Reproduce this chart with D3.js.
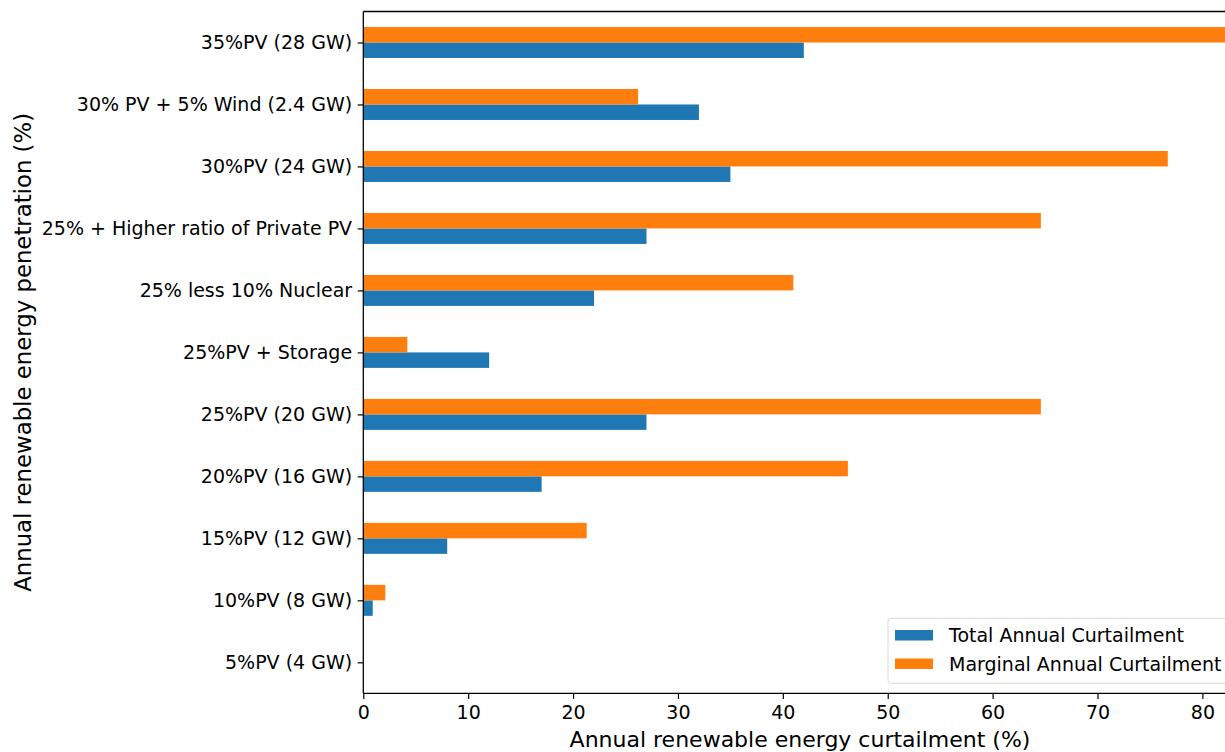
<!DOCTYPE html>
<html><head><meta charset="utf-8">
<script src="https://cdn.jsdelivr.net/npm/d3@7"></script>
<style>
html,body{margin:0;padding:0;background:#fff;overflow:hidden;}
svg{display:block;font-family:"DejaVu Sans",sans-serif;}
</style></head>
<body><svg id="c" width="1225" height="752"></svg>
<script>
const categories = ["5%PV (4 GW)","10%PV (8 GW)","15%PV (12 GW)","20%PV (16 GW)","25%PV (20 GW)","25%PV + Storage","25% less 10% Nuclear","25% + Higher ratio of Private PV","30%PV (24 GW)","30% PV + 5% Wind (2.4 GW)","35%PV (28 GW)"];
const totalCurtailment = [0, 0.9, 8, 17, 27, 12, 22, 27, 35, 32, 42];
const marginalCurtailment = [0, 2.1, 21.3, 46.2, 64.6, 4.2, 41, 64.6, 76.7, 26.2, 88];
const xTicks = [0,10,20,30,40,50,60,70,80];
const seriesNames = ["Total Annual Curtailment","Marginal Annual Curtailment"];
const colors = ["#1f77b4","#ff7f0e"];

const svg = d3.select("#c");
const L = 363.3, R = 1237, T = 11.5, B = 693.3;
const x = d3.scaleLinear().domain([0, 83.3]).range([L, R]);
const y = d3.scaleLinear().domain([-0.5, categories.length - 0.5]).range([B, T]);
const bw = 0.25;

svg.append("defs").append("clipPath").attr("id","pc")
  .append("rect").attr("x",L).attr("y",T).attr("width",R-L).attr("height",B-T);

const g = svg.append("g").attr("clip-path","url(#pc)");
const series = [totalCurtailment, marginalCurtailment];
series.forEach((vals, si) => {
  const off = si === 0 ? -bw/2 : bw/2;
  g.selectAll(null).data(vals).enter().append("rect")
    .attr("x", x(0))
    .attr("y", (d,i) => y(i + off + bw/2))
    .attr("width", d => x(d) - x(0))
    .attr("height", y(0) - y(bw))
    .attr("fill", colors[si]);
});

// axes
const xAxis = d3.axisBottom(x).tickValues(xTicks).tickSize(5.6).tickPadding(6.4).tickFormat(d3.format("d"));
const xg = svg.append("g").attr("transform",`translate(0,${B})`).call(xAxis);
xg.select(".domain").remove();
xg.selectAll("line").attr("stroke","#000").attr("stroke-width",1.2);
xg.selectAll("text").attr("font-size",19).attr("fill","#000").attr("font-family","DejaVu Sans");

const yAxis = d3.axisLeft(y).tickValues(d3.range(categories.length)).tickFormat(i => categories[i]).tickSize(5.6).tickPadding(5.6);
const yg = svg.append("g").attr("transform",`translate(${L},0)`).call(yAxis);
yg.select(".domain").remove();
yg.selectAll("line").attr("stroke","#000").attr("stroke-width",1.2);
yg.selectAll("text").attr("font-size",19).attr("fill","#000").attr("font-family","DejaVu Sans");

// spines
const sp = svg.append("g").attr("stroke","#000").attr("stroke-width",1.3).attr("fill","none");
sp.append("line").attr("x1",L).attr("x2",L).attr("y1",T).attr("y2",B);
sp.append("line").attr("x1",L).attr("x2",R).attr("y1",B).attr("y2",B);
sp.append("line").attr("x1",L).attr("x2",R).attr("y1",T).attr("y2",T);
sp.append("line").attr("x1",R).attr("x2",R).attr("y1",T).attr("y2",B);

// axis labels
svg.append("text").attr("x",800).attr("y",747).attr("text-anchor","middle")
  .attr("font-size",22).attr("fill","#000").text("Annual renewable energy curtailment (%)");
svg.append("text").attr("transform",`translate(31,${(T+B)/2}) rotate(-90)`).attr("text-anchor","middle")
  .attr("font-size",22.8).attr("fill","#000").text("Annual renewable energy penetration (%)");

// legend
const lg = svg.append("g");
lg.append("rect").attr("x",888).attr("y",618.3).attr("width",R-8-888).attr("height",65)
  .attr("rx",3).attr("fill","#fff").attr("fill-opacity",0.8).attr("stroke","#d9d9d9").attr("stroke-width",1);
seriesNames.forEach((n,i) => {
  const yy = 630 + i*28.5;
  lg.append("rect").attr("x",895).attr("y",yy).attr("width",38).attr("height",10.5).attr("fill",colors[i]);
  lg.append("text").attr("x",949).attr("y",yy+12).attr("font-size",19).attr("fill","#000").text(n);
});
</script></body></html>
